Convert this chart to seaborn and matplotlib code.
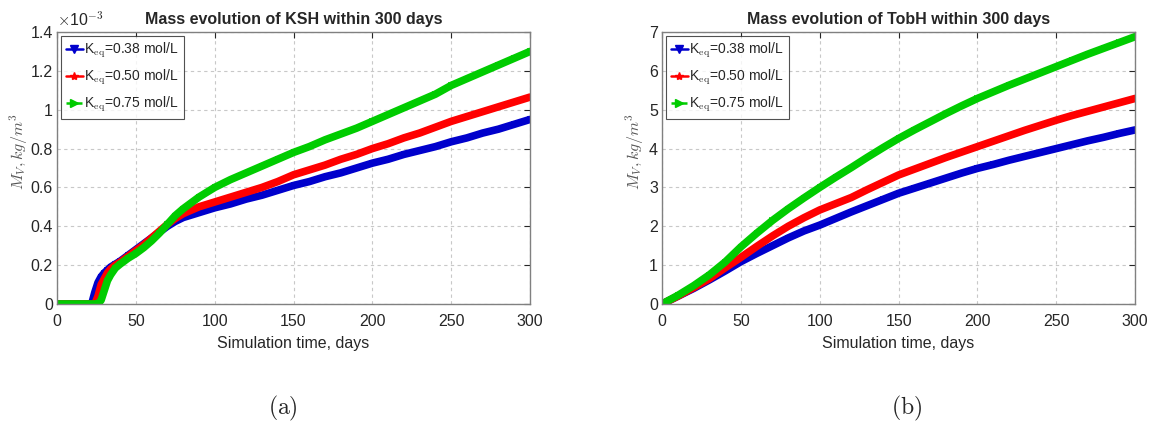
import numpy as np
import pandas as pd
import seaborn as sns
import matplotlib.pyplot as plt
from matplotlib.lines import Line2D

# KSH mass (x1e-3 kg/m3)
days_a = [0, 5, 10, 15, 20, 22, 24, 26, 28, 30, 32, 34, 37, 40, 45, 50, 55, 60, 65, 70, 75, 80, 90,
          100, 110, 120, 130, 140, 150, 160, 170, 180, 190, 200, 210, 220, 230, 240, 250, 260,
          270, 280, 290, 300]
ksh_038 = [0, 0, 0, 0, 0, 0.0, 0.06, 0.11, 0.14, 0.16, 0.175, 0.19, 0.205, 0.22, 0.25, 0.28, 0.31,
           0.34, 0.37, 0.40, 0.425, 0.445, 0.47, 0.495, 0.515, 0.54, 0.56, 0.585, 0.61, 0.63, 0.655,
           0.675, 0.70, 0.725, 0.745, 0.77, 0.79, 0.81, 0.835, 0.855, 0.88, 0.90, 0.925, 0.95]
ksh_050 = [0, 0, 0, 0, 0, 0, 0.0, 0.04, 0.10, 0.13, 0.16, 0.18, 0.20, 0.215, 0.245, 0.275, 0.305,
           0.34, 0.375, 0.41, 0.44, 0.465, 0.50, 0.525, 0.55, 0.575, 0.60, 0.63, 0.665, 0.69,
           0.715, 0.745, 0.77, 0.80, 0.825, 0.855, 0.88, 0.91, 0.94, 0.965, 0.99, 1.015, 1.04, 1.065]
ksh_075 = [0, 0, 0, 0, 0, 0, 0, 0, 0.02, 0.07, 0.12, 0.15, 0.185, 0.205, 0.235, 0.26, 0.29, 0.325,
           0.365, 0.41, 0.455, 0.49, 0.55, 0.60, 0.64, 0.675, 0.71, 0.745, 0.78, 0.81, 0.845,
           0.875, 0.905, 0.94, 0.975, 1.01, 1.045, 1.08, 1.125, 1.16, 1.195, 1.23, 1.265, 1.30]

# TobH mass (kg/m3)
days_b = list(range(0, 301, 10))
tobh_038 = [0, 0.2, 0.4, 0.62, 0.85, 1.09, 1.3, 1.5, 1.7, 1.88, 2.03, 2.2, 2.37, 2.53, 2.69, 2.85,
            2.98, 3.11, 3.24, 3.37, 3.49, 3.59, 3.70, 3.80, 3.90, 4.0, 4.10, 4.20, 4.29, 4.39, 4.48]
tobh_050 = [0, 0.2, 0.42, 0.65, 0.93, 1.2, 1.48, 1.75, 2.0, 2.22, 2.42, 2.58, 2.74, 2.94, 3.13,
            3.32, 3.47, 3.62, 3.77, 3.91, 4.05, 4.19, 4.33, 4.47, 4.60, 4.73, 4.85, 4.96, 5.07,
            5.18, 5.29]
tobh_075 = [0, 0.22, 0.47, 0.75, 1.08, 1.47, 1.82, 2.15, 2.45, 2.73, 3.0, 3.26, 3.51, 3.77, 4.02,
            4.26, 4.48, 4.69, 4.90, 5.10, 5.29, 5.46, 5.63, 5.79, 5.95, 6.11, 6.27, 6.43, 6.58,
            6.73, 6.88]

labels = ["K$_{\\mathrm{eq}}$=0.38 mol/L", "K$_{\\mathrm{eq}}$=0.50 mol/L",
          "K$_{\\mathrm{eq}}$=0.75 mol/L"]
colors = ["#0000cc", "#ff0000", "#00cc00"]
markers = ["v", "*", ">"]
styles = ["-", "-", "-."]

sns.set_style("white")
plt.rcParams["font.family"] = ["Liberation Sans", "DejaVu Sans"]
plt.rcParams["mathtext.fontset"] = "cm"

fig = plt.figure(figsize=(11.51, 4.29), dpi=100)
ax1 = fig.add_axes([0.0495, 0.2914, 0.411, 0.634])
ax2 = fig.add_axes([0.5752, 0.2914, 0.411, 0.634])


def draw(ax, days, series, ymax, title):
    for vals, c, m in zip(series, colors, markers):
        df = pd.DataFrame({"day": days, "m": vals})
        sns.lineplot(data=df, x="day", y="m", ax=ax, color=c, linewidth=5.5,
                     marker=m, markersize=5, markeredgewidth=0, legend=False)
    ax.set_xlim(0, 300)
    ax.set_ylim(0, ymax)
    ax.set_xticks(range(0, 301, 50))
    ax.set_title(title, fontsize=11.5, fontweight="bold", pad=6)
    ax.set_xlabel("Simulation time, days", fontsize=11.5, color="#262626", labelpad=5)
    ax.set_ylabel("$M_V, kg/m^3$", fontsize=11.5, color="#555555")
    ax.grid(True, linestyle=(0, (3, 3)), color="#c8c8c8", linewidth=0.8)
    ax.tick_params(direction="in", top=True, right=True, length=4, labelsize=11.5,
                   colors="#262626")
    ax.tick_params(axis="x", pad=7)
    ax.tick_params(axis="y", pad=3)
    for sp in ax.spines.values():
        sp.set_color("#808080")
        sp.set_linewidth(1)
    handles = [Line2D([], [], color=c, marker=m, linestyle=s, linewidth=1.8, markersize=6)
               for c, m, s in zip(colors, markers, styles)]
    leg = ax.legend(handles, labels, loc="upper left", fontsize=10, frameon=True,
                    fancybox=False, edgecolor="#262626", handlelength=1.2, handletextpad=0.1,
                    borderpad=0.35, labelspacing=0.55, borderaxespad=0.3)
    leg.get_frame().set_linewidth(0.8)


draw(ax1, days_a, [ksh_038, ksh_050, ksh_075], 1.4, "Mass evolution of KSH within 300 days")
ax1.set_yticks(np.arange(0, 1.41, 0.2))
ax1.set_yticklabels(["0", "0.2", "0.4", "0.6", "0.8", "1", "1.2", "1.4"])
ax1.yaxis.set_label_coords(-0.058, 0.56)
ax1.text(0.0, 1.012, "$\\times$10$^{-3}$", transform=ax1.transAxes, fontsize=11.5,
         color="#262626", ha="left", va="bottom")

draw(ax2, days_b, [tobh_038, tobh_050, tobh_075], 7, "Mass evolution of TobH within 300 days")
ax2.set_yticks(range(0, 8))
ax2.yaxis.set_label_coords(-0.033, 0.56)

fig.text(283 / 1151, 1 - 408 / 429, "$\\mathrm{(a)}$", fontsize=17, ha="center", va="center")
fig.text(907 / 1151, 1 - 408 / 429, "$\\mathrm{(b)}$", fontsize=17, ha="center", va="center")

fig.savefig("out.png", dpi=100)
